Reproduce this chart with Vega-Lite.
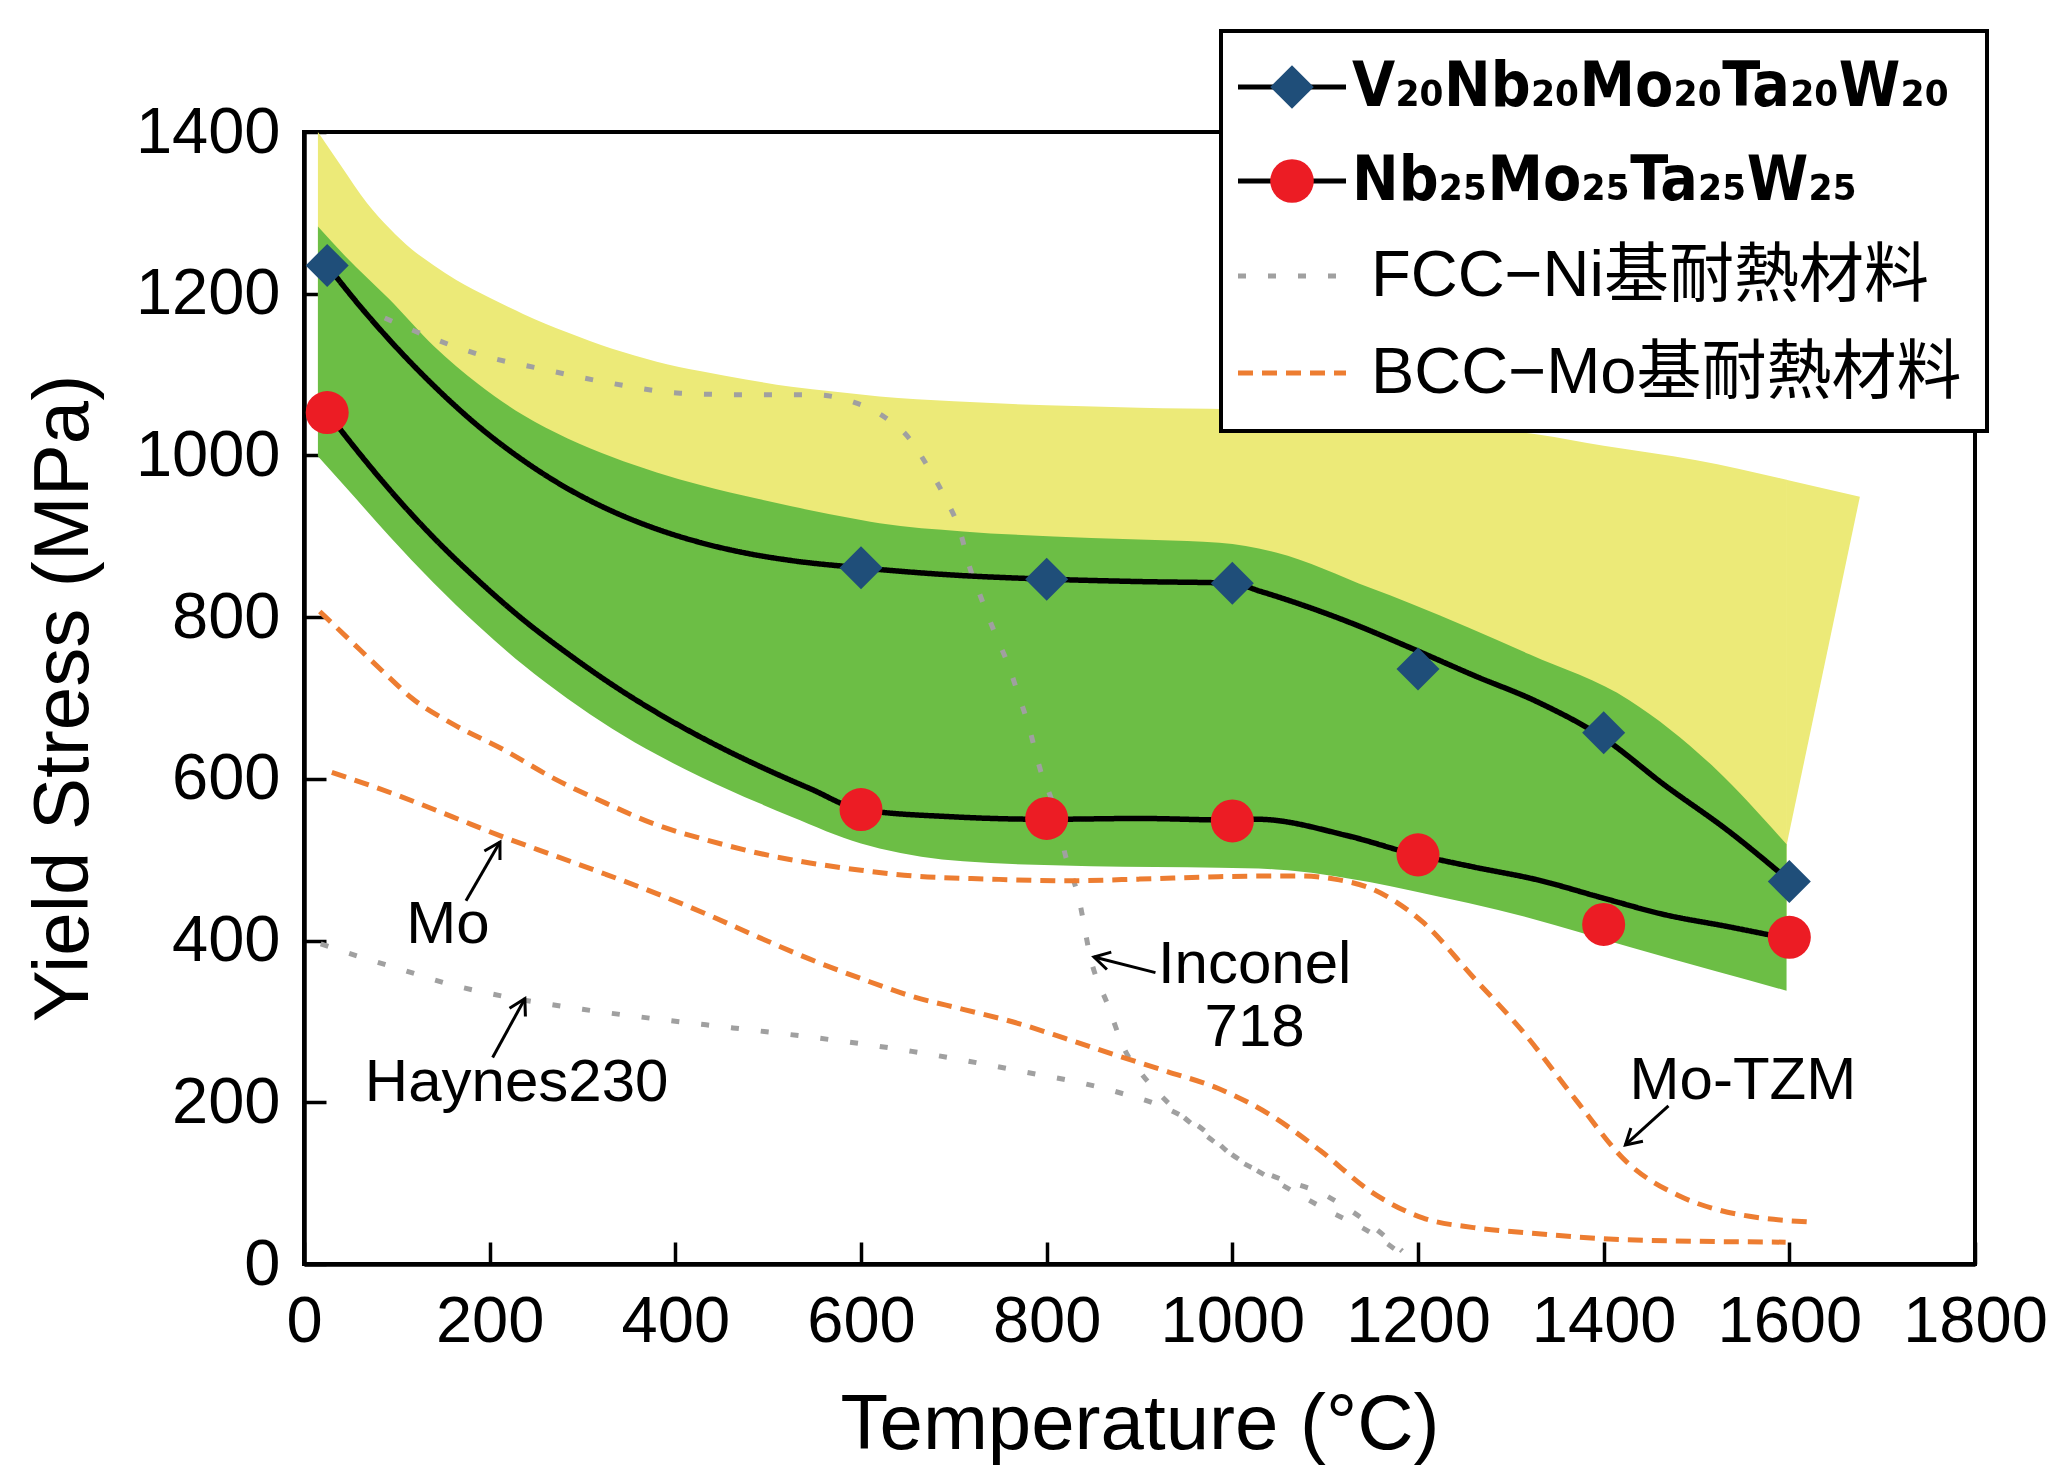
{
  "$schema": "https://vega.github.io/schema/vega-lite/v6.json",
  "width": 1671,
  "height": 1132,
  "autosize": {"type": "none"},
  "padding": {"left": 304, "top": 132, "right": 72, "bottom": 202},
  "background": "white",
  "config": {
    "view": {"stroke": "black", "strokeWidth": 4},
    "font": "Liberation Sans",
    "axis": {
      "grid": false, "domainColor": "black", "domainWidth": 4.5,
      "tickColor": "black", "tickWidth": 3.5, "tickSize": -22,
      "labelColor": "black", "labelFont": "Liberation Sans", "labelFontSize": 65,
      "labelFlush": false, "labelOverlap": false, "format": "d",
      "titleColor": "black", "titleFont": "Liberation Sans", "titleFontSize": 78,
      "titleFontWeight": "normal", "titleBaseline": "alphabetic"
    }
  },
  "datasets": {
    "yellow": [
      {"T": 15, "S": 1400, "S2": 1060}, {"T": 40, "S": 1358, "S2": 1025},
      {"T": 68, "S": 1312, "S2": 995}, {"T": 92, "S": 1281, "S2": 966}, {"T": 116, "S": 1255, "S2": 938},
      {"T": 140, "S": 1235, "S2": 910}, {"T": 164, "S": 1217, "S2": 883}, {"T": 200, "S": 1195, "S2": 845},
      {"T": 236, "S": 1175, "S2": 810}, {"T": 284, "S": 1152, "S2": 768}, {"T": 332, "S": 1132, "S2": 717},
      {"T": 380, "S": 1116, "S2": 680}, {"T": 428, "S": 1104, "S2": 647}, {"T": 476, "S": 1094, "S2": 613},
      {"T": 525, "S": 1085, "S2": 590}, {"T": 570, "S": 1079, "S2": 572}, {"T": 620, "S": 1073, "S2": 560},
      {"T": 700, "S": 1067, "S2": 553}, {"T": 800, "S": 1062, "S2": 550}, {"T": 900, "S": 1059, "S2": 550},
      {"T": 1000, "S": 1057, "S2": 549}, {"T": 1100, "S": 1048, "S2": 535}, {"T": 1200, "S": 1037, "S2": 506},
      {"T": 1329, "S": 1026, "S2": 475}, {"T": 1400, "S": 1012, "S2": 452}, {"T": 1500, "S": 994, "S2": 425},
      {"T": 1597, "S": 970, "S2": 402}
    ],
    "yellowEdge": [
      {"T": 1596.5, "S": 970, "S2": 515}, {"T": 1676, "S": 949, "S2": 949}
    ],
    "green": [
      {"T": 15, "S": 1283, "S2": 999}, {"T": 44, "S": 1247, "S2": 962}, {"T": 92, "S": 1193, "S2": 900},
      {"T": 140, "S": 1135, "S2": 842}, {"T": 188, "S": 1088, "S2": 789}, {"T": 236, "S": 1050, "S2": 741},
      {"T": 284, "S": 1021, "S2": 699}, {"T": 332, "S": 998, "S2": 662}, {"T": 380, "S": 979, "S2": 630},
      {"T": 428, "S": 963, "S2": 602}, {"T": 490, "S": 946, "S2": 570}, {"T": 525, "S": 937, "S2": 553},
      {"T": 600, "S": 920, "S2": 520}, {"T": 620, "S": 916, "S2": 514}, {"T": 710, "S": 906, "S2": 498},
      {"T": 848, "S": 898, "S2": 492}, {"T": 986, "S": 892, "S2": 490}, {"T": 1047, "S": 880, "S2": 488},
      {"T": 1149, "S": 836, "S2": 472}, {"T": 1192, "S": 817, "S2": 462}, {"T": 1320, "S": 754, "S2": 428},
      {"T": 1428, "S": 697, "S2": 392}, {"T": 1521, "S": 612, "S2": 362}, {"T": 1597, "S": 519, "S2": 338}
    ],
    "main": [
      {"series": "V20", "T": 25, "S": 1235}, {"series": "V20", "T": 60, "S": 1185}, {"series": "V20", "T": 92, "S": 1143},
      {"series": "V20", "T": 140, "S": 1086}, {"series": "V20", "T": 188, "S": 1036}, {"series": "V20", "T": 236, "S": 994},
      {"series": "V20", "T": 284, "S": 959}, {"series": "V20", "T": 332, "S": 931}, {"series": "V20", "T": 380, "S": 909},
      {"series": "V20", "T": 428, "S": 892}, {"series": "V20", "T": 477, "S": 879}, {"series": "V20", "T": 525, "S": 870},
      {"series": "V20", "T": 600, "S": 861}, {"series": "V20", "T": 700, "S": 852}, {"series": "V20", "T": 800, "S": 847},
      {"series": "V20", "T": 900, "S": 844}, {"series": "V20", "T": 1000, "S": 842}, {"series": "V20", "T": 1030, "S": 832},
      {"series": "V20", "T": 1123, "S": 795}, {"series": "V20", "T": 1192, "S": 762}, {"series": "V20", "T": 1260, "S": 728},
      {"series": "V20", "T": 1329, "S": 695}, {"series": "V20", "T": 1398, "S": 652}, {"series": "V20", "T": 1466, "S": 592},
      {"series": "V20", "T": 1535, "S": 535}, {"series": "V20", "T": 1600, "S": 474},
      {"series": "Nb25", "T": 25, "S": 1053}, {"series": "Nb25", "T": 60, "S": 1002}, {"series": "Nb25", "T": 92, "S": 958},
      {"series": "Nb25", "T": 140, "S": 898}, {"series": "Nb25", "T": 188, "S": 845}, {"series": "Nb25", "T": 236, "S": 797},
      {"series": "Nb25", "T": 284, "S": 755}, {"series": "Nb25", "T": 330, "S": 718}, {"series": "Nb25", "T": 380, "S": 682},
      {"series": "Nb25", "T": 435, "S": 647}, {"series": "Nb25", "T": 490, "S": 616}, {"series": "Nb25", "T": 545, "S": 588},
      {"series": "Nb25", "T": 600, "S": 562}, {"series": "Nb25", "T": 700, "S": 553}, {"series": "Nb25", "T": 800, "S": 550},
      {"series": "Nb25", "T": 900, "S": 551}, {"series": "Nb25", "T": 1000, "S": 549}, {"series": "Nb25", "T": 1027, "S": 550},
      {"series": "Nb25", "T": 1123, "S": 530}, {"series": "Nb25", "T": 1192, "S": 508}, {"series": "Nb25", "T": 1260, "S": 491},
      {"series": "Nb25", "T": 1329, "S": 475}, {"series": "Nb25", "T": 1398, "S": 453}, {"series": "Nb25", "T": 1466, "S": 432},
      {"series": "Nb25", "T": 1535, "S": 417}, {"series": "Nb25", "T": 1600, "S": 402}
    ],
    "refs": [
      {"series": "FCC", "name": "Inconel718", "T": 87, "S": 1170}, {"series": "FCC", "name": "Inconel718", "T": 121, "S": 1153},
      {"series": "FCC", "name": "Inconel718", "T": 188, "S": 1125}, {"series": "FCC", "name": "Inconel718", "T": 260, "S": 1106},
      {"series": "FCC", "name": "Inconel718", "T": 332, "S": 1089}, {"series": "FCC", "name": "Inconel718", "T": 405, "S": 1077},
      {"series": "FCC", "name": "Inconel718", "T": 476, "S": 1075}, {"series": "FCC", "name": "Inconel718", "T": 549, "S": 1075},
      {"series": "FCC", "name": "Inconel718", "T": 592, "S": 1066}, {"series": "FCC", "name": "Inconel718", "T": 626, "S": 1047},
      {"series": "FCC", "name": "Inconel718", "T": 652, "S": 1021}, {"series": "FCC", "name": "Inconel718", "T": 673, "S": 984},
      {"series": "FCC", "name": "Inconel718", "T": 690, "S": 949}, {"series": "FCC", "name": "Inconel718", "T": 707, "S": 905},
      {"series": "FCC", "name": "Inconel718", "T": 717, "S": 862}, {"series": "FCC", "name": "Inconel718", "T": 728, "S": 828},
      {"series": "FCC", "name": "Inconel718", "T": 745, "S": 778}, {"series": "FCC", "name": "Inconel718", "T": 759, "S": 740},
      {"series": "FCC", "name": "Inconel718", "T": 769, "S": 706}, {"series": "FCC", "name": "Inconel718", "T": 780, "S": 668},
      {"series": "FCC", "name": "Inconel718", "T": 793, "S": 612}, {"series": "FCC", "name": "Inconel718", "T": 807, "S": 568},
      {"series": "FCC", "name": "Inconel718", "T": 821, "S": 502}, {"series": "FCC", "name": "Inconel718", "T": 834, "S": 455},
      {"series": "FCC", "name": "Inconel718", "T": 848, "S": 375}, {"series": "FCC", "name": "Inconel718", "T": 866, "S": 320},
      {"series": "FCC", "name": "Inconel718", "T": 884, "S": 265}, {"series": "FCC", "name": "Inconel718", "T": 903, "S": 234},
      {"series": "FCC", "name": "Inconel718", "T": 933, "S": 197}, {"series": "FCC", "name": "Inconel718", "T": 965, "S": 165},
      {"series": "FCC", "name": "Inconel718", "T": 1000, "S": 135}, {"series": "FCC", "name": "Inconel718", "T": 1050, "S": 100},
      {"series": "FCC", "name": "Inconel718", "T": 1100, "S": 68}, {"series": "FCC", "name": "Inconel718", "T": 1150, "S": 38},
      {"series": "FCC", "name": "Inconel718", "T": 1185, "S": 10},
      {"series": "FCC", "name": "Haynes230", "T": 18, "S": 396}, {"series": "FCC", "name": "Haynes230", "T": 60, "S": 380},
      {"series": "FCC", "name": "Haynes230", "T": 100, "S": 366}, {"series": "FCC", "name": "Haynes230", "T": 160, "S": 345},
      {"series": "FCC", "name": "Haynes230", "T": 215, "S": 331}, {"series": "FCC", "name": "Haynes230", "T": 300, "S": 315},
      {"series": "FCC", "name": "Haynes230", "T": 380, "S": 303}, {"series": "FCC", "name": "Haynes230", "T": 462, "S": 292},
      {"series": "FCC", "name": "Haynes230", "T": 550, "S": 280}, {"series": "FCC", "name": "Haynes230", "T": 655, "S": 263},
      {"series": "FCC", "name": "Haynes230", "T": 765, "S": 240}, {"series": "FCC", "name": "Haynes230", "T": 875, "S": 213},
      {"series": "FCC", "name": "Haynes230", "T": 930, "S": 192}, {"series": "FCC", "name": "Haynes230", "T": 963, "S": 171},
      {"series": "FCC", "name": "Haynes230", "T": 1007, "S": 128}, {"series": "FCC", "name": "Haynes230", "T": 1050, "S": 106},
      {"series": "FCC", "name": "Haynes230", "T": 1095, "S": 88}, {"series": "FCC", "name": "Haynes230", "T": 1139, "S": 57},
      {"series": "FCC", "name": "Haynes230", "T": 1183, "S": 16},
      {"series": "BCC", "name": "MoTZM", "T": 17, "S": 807}, {"series": "BCC", "name": "MoTZM", "T": 60, "S": 760},
      {"series": "BCC", "name": "MoTZM", "T": 94, "S": 723}, {"series": "BCC", "name": "MoTZM", "T": 116, "S": 700},
      {"series": "BCC", "name": "MoTZM", "T": 160, "S": 668}, {"series": "BCC", "name": "MoTZM", "T": 215, "S": 636},
      {"series": "BCC", "name": "MoTZM", "T": 270, "S": 600}, {"series": "BCC", "name": "MoTZM", "T": 325, "S": 570},
      {"series": "BCC", "name": "MoTZM", "T": 380, "S": 543}, {"series": "BCC", "name": "MoTZM", "T": 435, "S": 524},
      {"series": "BCC", "name": "MoTZM", "T": 490, "S": 508}, {"series": "BCC", "name": "MoTZM", "T": 545, "S": 496},
      {"series": "BCC", "name": "MoTZM", "T": 600, "S": 487}, {"series": "BCC", "name": "MoTZM", "T": 655, "S": 480},
      {"series": "BCC", "name": "MoTZM", "T": 740, "S": 476}, {"series": "BCC", "name": "MoTZM", "T": 820, "S": 474},
      {"series": "BCC", "name": "MoTZM", "T": 900, "S": 476}, {"series": "BCC", "name": "MoTZM", "T": 985, "S": 479},
      {"series": "BCC", "name": "MoTZM", "T": 1073, "S": 480}, {"series": "BCC", "name": "MoTZM", "T": 1110, "S": 476},
      {"series": "BCC", "name": "MoTZM", "T": 1150, "S": 464}, {"series": "BCC", "name": "MoTZM", "T": 1205, "S": 423},
      {"series": "BCC", "name": "MoTZM", "T": 1260, "S": 354}, {"series": "BCC", "name": "MoTZM", "T": 1314, "S": 286},
      {"series": "BCC", "name": "MoTZM", "T": 1370, "S": 203}, {"series": "BCC", "name": "MoTZM", "T": 1425, "S": 126},
      {"series": "BCC", "name": "MoTZM", "T": 1480, "S": 85}, {"series": "BCC", "name": "MoTZM", "T": 1520, "S": 68},
      {"series": "BCC", "name": "MoTZM", "T": 1557, "S": 59}, {"series": "BCC", "name": "MoTZM", "T": 1622, "S": 52},
      {"series": "BCC", "name": "Mo", "T": 30, "S": 608}, {"series": "BCC", "name": "Mo", "T": 100, "S": 580},
      {"series": "BCC", "name": "Mo", "T": 160, "S": 553}, {"series": "BCC", "name": "Mo", "T": 215, "S": 528},
      {"series": "BCC", "name": "Mo", "T": 270, "S": 505}, {"series": "BCC", "name": "Mo", "T": 325, "S": 482},
      {"series": "BCC", "name": "Mo", "T": 380, "S": 458}, {"series": "BCC", "name": "Mo", "T": 435, "S": 432},
      {"series": "BCC", "name": "Mo", "T": 490, "S": 404}, {"series": "BCC", "name": "Mo", "T": 545, "S": 377},
      {"series": "BCC", "name": "Mo", "T": 600, "S": 353}, {"series": "BCC", "name": "Mo", "T": 655, "S": 331},
      {"series": "BCC", "name": "Mo", "T": 710, "S": 315}, {"series": "BCC", "name": "Mo", "T": 765, "S": 299},
      {"series": "BCC", "name": "Mo", "T": 820, "S": 279}, {"series": "BCC", "name": "Mo", "T": 875, "S": 258},
      {"series": "BCC", "name": "Mo", "T": 930, "S": 238}, {"series": "BCC", "name": "Mo", "T": 985, "S": 217},
      {"series": "BCC", "name": "Mo", "T": 1040, "S": 185}, {"series": "BCC", "name": "Mo", "T": 1095, "S": 140},
      {"series": "BCC", "name": "Mo", "T": 1150, "S": 89}, {"series": "BCC", "name": "Mo", "T": 1205, "S": 57},
      {"series": "BCC", "name": "Mo", "T": 1260, "S": 45}, {"series": "BCC", "name": "Mo", "T": 1314, "S": 39},
      {"series": "BCC", "name": "Mo", "T": 1424, "S": 30}, {"series": "BCC", "name": "Mo", "T": 1596, "S": 27}
    ],
    "pts": [
      {"series": "V20", "T": 25, "S": 1235}, {"series": "V20", "T": 600, "S": 861}, {"series": "V20", "T": 800, "S": 847},
      {"series": "V20", "T": 1000, "S": 842}, {"series": "V20", "T": 1200, "S": 736}, {"series": "V20", "T": 1400, "S": 657},
      {"series": "V20", "T": 1600, "S": 473},
      {"series": "Nb25", "T": 25, "S": 1053}, {"series": "Nb25", "T": 600, "S": 562}, {"series": "Nb25", "T": 800, "S": 551},
      {"series": "Nb25", "T": 1000, "S": 548}, {"series": "Nb25", "T": 1200, "S": 506}, {"series": "Nb25", "T": 1400, "S": 420},
      {"series": "Nb25", "T": 1600, "S": 404}
    ],
    "notes": [
      {"label": "Mo", "T": 155, "S": 397},
      {"label": "Haynes230", "T": 229, "S": 201},
      {"label": "Inconel", "T": 1024, "S": 348},
      {"label": "718", "T": 1024, "S": 269},
      {"label": "Mo-TZM", "T": 1550, "S": 204}
    ],
    "arrows": [
      {"part": "Mo-shaft", "k": 1, "T": 174.5, "S": 449.2}, {"part": "Mo-shaft", "k": 2, "T": 211.1, "S": 521.9},
      {"part": "Mo-head", "k": 1, "T": 194.3, "S": 510.8}, {"part": "Mo-head", "k": 2, "T": 211.1, "S": 521.9}, {"part": "Mo-head", "k": 3, "T": 211.1, "S": 499.6},
      {"part": "Hy-shaft", "k": 1, "T": 203.2, "S": 255.4}, {"part": "Hy-shaft", "k": 2, "T": 237.9, "S": 328.1},
      {"part": "Hy-head", "k": 1, "T": 221.4, "S": 316.3}, {"part": "Hy-head", "k": 2, "T": 237.9, "S": 328.1}, {"part": "Hy-head", "k": 3, "T": 238.5, "S": 306.0},
      {"part": "In-shaft", "k": 1, "T": 917.2, "S": 360.4}, {"part": "In-shaft", "k": 2, "T": 851.0, "S": 379.7},
      {"part": "In-head", "k": 1, "T": 864.9, "S": 364.2}, {"part": "In-head", "k": 2, "T": 851.0, "S": 379.7}, {"part": "In-head", "k": 3, "T": 869.6, "S": 385.7},
      {"part": "TZM-shaft", "k": 1, "T": 1469.8, "S": 195.6}, {"part": "TZM-shaft", "k": 2, "T": 1423.4, "S": 147.2},
      {"part": "TZM-head", "k": 1, "T": 1442.3, "S": 151.9}, {"part": "TZM-head", "k": 2, "T": 1423.4, "S": 147.2}, {"part": "TZM-head", "k": 3, "T": 1429.3, "S": 168.3}
    ]
  },
  "encoding": {
    "x": {
      "field": "T", "type": "quantitative",
      "scale": {"domain": [0, 1800], "nice": false, "zero": false},
      "axis": {"values": [0, 200, 400, 600, 800, 1000, 1200, 1400, 1600, 1800], "labelPadding": 48, "format": "d",
               "title": "Temperature (°C)", "titleX": 835.5, "titleY": 184, "titleAlign": "center"}
    },
    "y": {
      "field": "S", "type": "quantitative",
      "scale": {"domain": [0, 1400], "nice": false},
      "axis": {"values": [0, 200, 400, 600, 800, 1000, 1200, 1400], "labelPadding": 46, "format": "d",
               "title": "Yield Stress (MPa)", "titleX": -217, "titleY": 566, "titleAngle": -90, "titleAlign": "center"}
    }
  },
  "layer": [
    {
      "data": {"name": "yellow"},
      "mark": {"type": "area", "color": "#ECEA78", "interpolate": "monotone", "opacity": 1},
      "encoding": {"y2": {"field": "S2"}}
    },
    {
      "data": {"name": "yellowEdge"},
      "mark": {"type": "area", "color": "#ECEA78", "interpolate": "linear", "opacity": 1},
      "encoding": {"y2": {"field": "S2"}}
    },
    {
      "data": {"name": "green"},
      "mark": {"type": "area", "color": "#6CBE45", "interpolate": "monotone", "opacity": 1},
      "encoding": {"y2": {"field": "S2"}}
    },
    {
      "data": {"name": "refs"},
      "mark": {"type": "line", "strokeWidth": 5, "interpolate": "monotone", "strokeCap": "butt"},
      "encoding": {
        "detail": {"field": "name", "type": "nominal"},
        "stroke": {
          "field": "series", "type": "nominal",
          "scale": {"domain": ["V20", "Nb25", "FCC", "BCC"], "range": ["#000000", "#000000", "#A0A0A0", "#ED7D31"]},
          "legend": {
            "title": null, "orient": "none", "legendX": 917, "legendY": -101, "direction": "vertical",
            "padding": 25, "strokeColor": "black", "fillColor": "white",
            "symbolType": "M-2.4,0H2.4", "symbolSize": 2025, "symbolStrokeWidth": 5, "symbolOffset": 15,
            "labelOffset": 29, "labelFontSize": 62, "labelLimit": 1000, "labelColor": "black", "rowPadding": 32,
            "labelExpr": "datum.value == 'V20' ? 'V₂₀Nb₂₀Mo₂₀Ta₂₀W₂₀' : datum.value == 'Nb25' ? 'Nb₂₅Mo₂₅Ta₂₅W₂₅' : datum.value == 'FCC' ? 'FCC−Ni基耐熱材料' : 'BCC−Mo基耐熱材料'",
            "encode": {
              "legend": {"update": {"strokeWidth": {"value": 4}}},
              "labels": {"update": {
                "font": {"signal": "(datum.value == 'FCC' || datum.value == 'BCC') ? 'Liberation Sans, Noto Sans CJK JP' : 'Liberation Sans Narrow, DejaVu Sans Condensed, Liberation Sans'"},
                "fontWeight": {"signal": "(datum.value == 'FCC' || datum.value == 'BCC') ? 'normal' : 'bold'"},
                "fontSize": {"signal": "(datum.value == 'FCC' || datum.value == 'BCC') ? 65 : 62"},
                "dx": {"signal": "(datum.value == 'FCC' || datum.value == 'BCC') ? 19 : 0"}
              }}
            }
          }
        },
        "strokeDash": {
          "field": "series", "type": "nominal",
          "scale": {"domain": ["V20", "Nb25", "FCC", "BCC"], "range": [[1, 0], [1, 0], [8, 22], [15, 9]]},
          "legend": {
            "title": null, "orient": "none", "legendX": 917, "legendY": -101, "direction": "vertical",
            "padding": 25, "strokeColor": "black", "fillColor": "white",
            "symbolType": "M-2.4,0H2.4", "symbolSize": 2025, "symbolStrokeWidth": 5, "symbolOffset": 15,
            "labelOffset": 29, "labelFontSize": 62, "labelLimit": 1000, "labelColor": "black", "rowPadding": 32,
            "labelExpr": "datum.value == 'V20' ? 'V₂₀Nb₂₀Mo₂₀Ta₂₀W₂₀' : datum.value == 'Nb25' ? 'Nb₂₅Mo₂₅Ta₂₅W₂₅' : datum.value == 'FCC' ? 'FCC−Ni基耐熱材料' : 'BCC−Mo基耐熱材料'",
            "encode": {
              "legend": {"update": {"strokeWidth": {"value": 4}}},
              "labels": {"update": {
                "font": {"signal": "(datum.value == 'FCC' || datum.value == 'BCC') ? 'Liberation Sans, Noto Sans CJK JP' : 'Liberation Sans Narrow, DejaVu Sans Condensed, Liberation Sans'"},
                "fontWeight": {"signal": "(datum.value == 'FCC' || datum.value == 'BCC') ? 'normal' : 'bold'"},
                "fontSize": {"signal": "(datum.value == 'FCC' || datum.value == 'BCC') ? 65 : 62"},
                "dx": {"signal": "(datum.value == 'FCC' || datum.value == 'BCC') ? 19 : 0"}
              }}
            }
          }
        }
      }
    },
    {
      "data": {"name": "main"},
      "mark": {"type": "line", "strokeWidth": 5.5, "interpolate": "monotone"},
      "encoding": {
        "stroke": {"field": "series", "type": "nominal"},
        "strokeDash": {"field": "series", "type": "nominal"}
      }
    },
    {
      "data": {"name": "pts"},
      "mark": {"type": "point", "filled": true, "opacity": 1, "size": 1850, "strokeWidth": 0},
      "encoding": {
        "fill": {
          "field": "series", "type": "nominal",
          "scale": {"domain": ["V20", "Nb25"], "range": ["#1F4E79", "#EC1C24"]},
          "legend": {"title": null, "orient": "none", "legendX": 917, "legendY": -101, "direction": "vertical",
                     "padding": 25, "symbolSize": 1900, "symbolStrokeWidth": 0, "symbolOffset": 15,
                     "labelOffset": 29, "labelFontSize": 62, "labelExpr": "''", "rowPadding": 32}
        },
        "shape": {
          "field": "series", "type": "nominal",
          "scale": {"domain": ["V20", "Nb25"], "range": ["diamond", "circle"]},
          "legend": {"title": null, "orient": "none", "legendX": 917, "legendY": -101, "direction": "vertical",
                     "padding": 25, "symbolSize": 1900, "symbolStrokeWidth": 0, "symbolOffset": 15,
                     "labelOffset": 29, "labelFontSize": 62, "labelExpr": "''", "rowPadding": 32}
        }
      }
    },
    {
      "data": {"name": "notes"},
      "mark": {"type": "text", "font": "Liberation Sans", "fontSize": 60, "baseline": "alphabetic", "align": "center", "color": "black"},
      "encoding": {"text": {"field": "label", "type": "nominal"}}
    },
    {
      "data": {"name": "arrows"},
      "mark": {"type": "line", "color": "black", "strokeWidth": 3, "interpolate": "linear"},
      "encoding": {
        "detail": {"field": "part", "type": "nominal"},
        "order": {"field": "k", "type": "quantitative"}
      }
    }
  ]
}
